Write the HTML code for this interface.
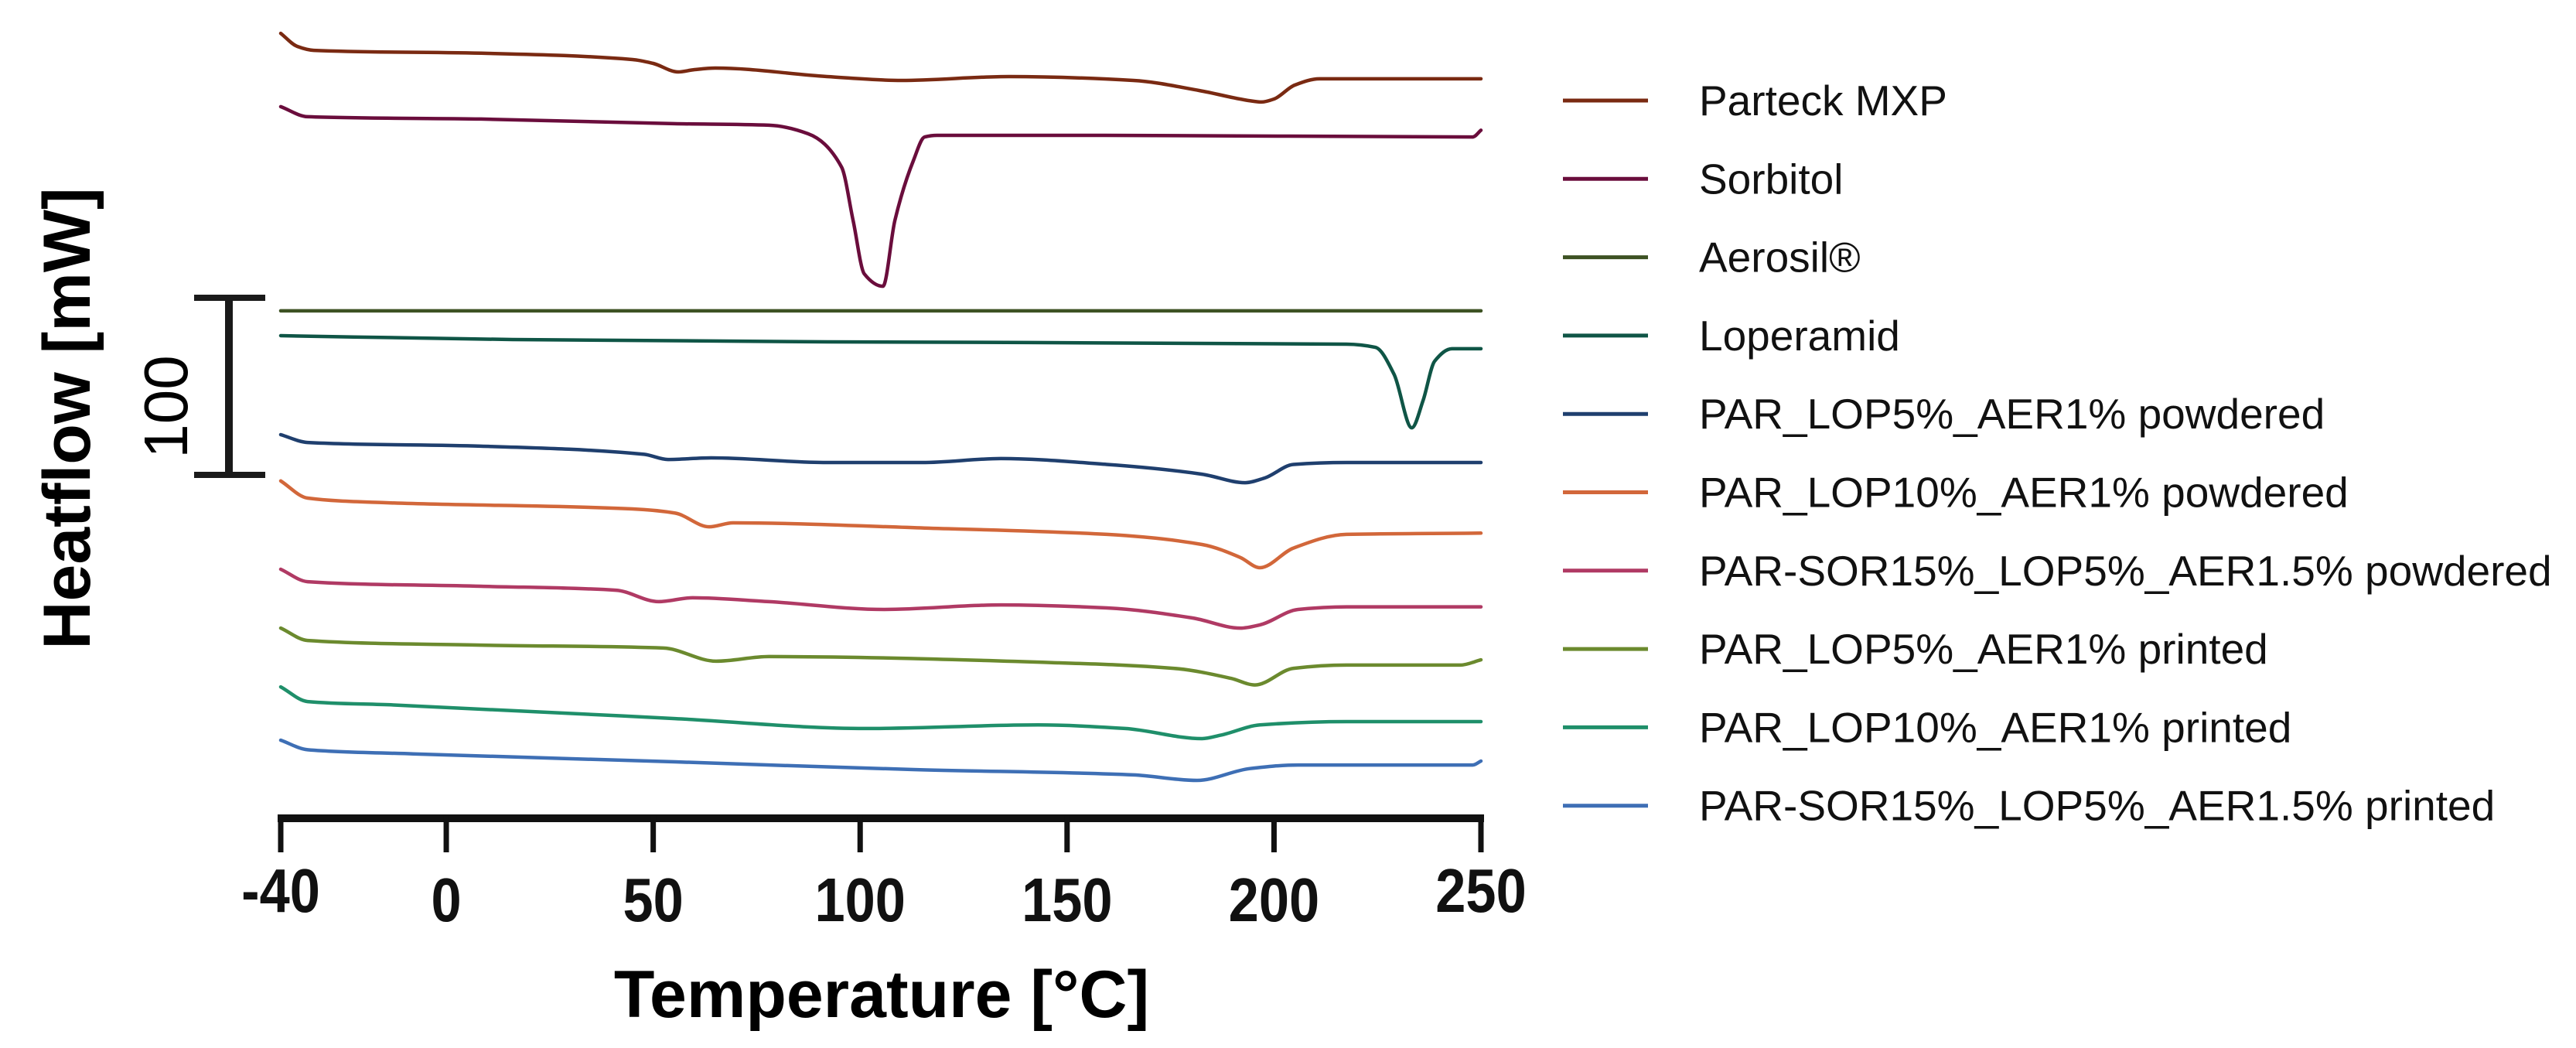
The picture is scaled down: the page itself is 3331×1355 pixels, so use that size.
<!DOCTYPE html>
<html><head><meta charset="utf-8"><style>
html,body{margin:0;padding:0;background:#fff;}
svg{display:block;font-family:"Liberation Sans",Arial,sans-serif;}
</style></head><body>
<svg id="chart" width="3331" height="1355" viewBox="0 0 3331 1355" xmlns="http://www.w3.org/2000/svg">
<g id="plot"></g>
<g id="axis"></g>
<g id="legend"></g>
<text x="1140" y="1315" font-size="86" font-weight="bold" text-anchor="middle">Temperature [°C]</text>
<text transform="translate(116,541) rotate(-90)" font-size="86" font-weight="bold" text-anchor="middle">Heatflow [mW]</text>
<g>
<line x1="296" y1="385" x2="296" y2="614" stroke="#1a1a1a" stroke-width="10"/>
<line x1="251" y1="385" x2="343" y2="385" stroke="#1a1a1a" stroke-width="8"/>
<line x1="251" y1="614" x2="343" y2="614" stroke="#1a1a1a" stroke-width="8"/>
<text transform="translate(242,526) rotate(-90)" font-size="80" text-anchor="middle">100</text>
</g>
</svg>
<script>
const seriesNames = ["Parteck MXP","Sorbitol","Aerosil®","Loperamid","PAR_LOP5%_AER1% powdered","PAR_LOP10%_AER1% powdered","PAR-SOR15%_LOP5%_AER1.5% powdered","PAR_LOP5%_AER1% printed","PAR_LOP10%_AER1% printed","PAR-SOR15%_LOP5%_AER1.5% printed"];
const seriesColors = ["#7a2a12","#6a0d3c","#3d5223","#0f5546","#1f3f6e","#d2673a","#b03a64","#6b8a2e","#1f8f6a","#3e6fb5"];
const xTicks = [-40,0,50,100,150,200,250];
const xTickLabels = ["-40","0","50","100","150","200","250"];
const tParteck = [-40,-36,-32,10,45,50,56,60,65,92,110,136,166,182,194,197,200,205,211,250];
const hParteck = [439.7,432.3,430.1,428.4,424.9,422.7,417.9,419.2,420.1,415.3,413.1,415.3,413.1,407.4,401.7,400.9,402.6,410.5,414.0,414.0];
const tSorbitol = [-40,-33.5,8.4,55,78,87.4,95.5,98.3,101,105.5,108.4,112.9,115.6,118.6,159,248,250];
const hSorbitol = [398.3,392.6,391.3,388.7,387.8,383,364.2,334.1,303.9,296.9,334.1,368.1,381.2,382.1,382.1,381.2,385];
const tAerosil = [-40,250];
const hAerosil = [283.0,283.0];
const tLoperamid = [-40,16,92,217.5,224.5,229,233.3,236,238.8,243,250];
const hLoperamid = [269,266.8,265.5,264.2,262.4,247.2,217,232.3,254.6,261.6,261.6];
const tLop5Pow = [-40,-33.5,8.4,47.8,53.6,64,92,115,134,159.6,182.6,193,197.7,204.7,217.5,250];
const hLop5Pow = [213.1,208.7,206.6,202,199.1,200,197.4,197.4,199.6,196.3,190.8,186,188.6,196.3,197.4,197.4];
const tLop10Pow = [-40,-33.5,-15,45,55.3,63.5,69.3,115.6,159.6,182.6,191.9,196.6,204.7,217.5,250];
const hLop10Pow = [187,177.3,174.7,171.2,168.8,161.1,163.3,160.4,156.8,151.1,143.7,138,149.1,156.8,157.5];
const tSorPow = [-40,-33.5,8.4,41,51.3,59.5,78,105.9,134,159.6,180.3,191.9,196.6,205.8,217.5,250];
const hSorPow = [137.1,130.1,127.5,125.3,118.8,121,118.8,114.4,117,115.3,109.6,103.9,105.7,114.4,115.9,115.9];
const tLop5Pri = [-40,-33.5,8.4,52.5,65.2,78,148,175.7,189.6,195.4,204.7,217.5,245,250];
const hLop5Pri = [103.9,96.9,94.3,92.6,85.2,87.8,84.3,81.2,75.5,71.8,81.2,83,83,86];
const tLop10Pri = [-40,-33.5,-12.7,55.3,101.3,143,164,182.6,187.2,196.6,217.5,250];
const hLop10Pri = [70.7,62.4,60.5,52.8,47.2,49.2,47.2,41.5,43.5,49.2,51.1,51.1];
const tSorPri = [-40,-33.5,-8,55.3,112.9,166,181.4,194.2,205.8,248,250];
const hSorPri = [40.6,35.2,32.9,28.4,24,21,17.9,24.6,26.6,26.6,28.8];

const seriesT = [tParteck,tSorbitol,tAerosil,tLoperamid,tLop5Pow,tLop10Pow,tSorPow,tLop5Pri,tLop10Pri,tSorPri];
const seriesH = [hParteck,hSorbitol,hAerosil,hLoperamid,hLop5Pow,hLop10Pow,hSorPow,hLop5Pri,hLop10Pri,hSorPri];
const seriesIds = ["parteck","sorbitol","aerosil","loperamid","lop5-powdered","lop10-powdered","sor15-powdered","lop5-printed","lop10-printed","sor15-printed"];

const NS="http://www.w3.org/2000/svg";
function xs(t){return 363+(t+40)*(1915-363)/290;}
function ys(v){return 1050-v*2.29;}
function mk(tag,attrs){const e=document.createElementNS(NS,tag);for(const k in attrs)e.setAttribute(k,attrs[k]);return e;}
// monotone cubic (Fritsch-Carlson) – no overshoot
function monoPath(pts){
  const n=pts.length;
  let d='M'+pts[0][0].toFixed(1)+' '+pts[0][1].toFixed(1);
  if(n<3){for(let i=1;i<n;i++)d+='L'+pts[i][0].toFixed(1)+' '+pts[i][1].toFixed(1);return d;}
  const dx=[],sl=[];
  for(let i=0;i<n-1;i++){dx.push(pts[i+1][0]-pts[i][0]);sl.push((pts[i+1][1]-pts[i][1])/dx[i]);}
  const m=[sl[0]];
  for(let i=1;i<n-1;i++){
    if(sl[i-1]*sl[i]<=0)m.push(0);
    else{const w1=2*dx[i]+dx[i-1],w2=dx[i]+2*dx[i-1];m.push((w1+w2)/(w1/sl[i-1]+w2/sl[i]));}
  }
  m.push(sl[n-2]);
  for(let i=0;i<n-1;i++){
    const h=dx[i]/3;
    d+='C'+(pts[i][0]+h).toFixed(1)+' '+(pts[i][1]+m[i]*h).toFixed(1)+' '+(pts[i+1][0]-h).toFixed(1)+' '+(pts[i+1][1]-m[i+1]*h).toFixed(1)+' '+pts[i+1][0].toFixed(1)+' '+pts[i+1][1].toFixed(1);
  }
  return d;
}

const plot=document.getElementById('plot');
for(let s=0;s<seriesT.length;s++){
  const pts=[];
  for(let i=0;i<seriesT[s].length;i++){pts.push([xs(seriesT[s][i]),ys(seriesH[s][i])]);}
  const p=mk('path',{d:monoPath(pts),fill:'none',stroke:seriesColors[s],'stroke-width':4.5,'stroke-linejoin':'round','stroke-linecap':'round'});
  
  
  plot.appendChild(p);
}

const axis=document.getElementById('axis');
const al=mk('line',{x1:xs(-40)-4,x2:xs(250)+4,y1:1058,y2:1058,stroke:'#111','stroke-width':10});


axis.appendChild(al);
for(let i=0;i<xTicks.length;i++){
  const x=xs(xTicks[i]);
  const tk=mk('line',{x1:x,x2:x,y1:1055,y2:1102,stroke:'#111','stroke-width':7});
  
  
  axis.appendChild(tk);
  const raised=(i===0||i===xTicks.length-1);
  const by=raised?1179:1191;
  const tx=mk('text',{x:0,y:0,'font-size':80,'font-weight':'bold','text-anchor':'middle',fill:'#111',transform:'translate('+x+','+by+') scale(0.88,1)'});
  tx.textContent=xTickLabels[i];
  
  
  axis.appendChild(tx);
}

const legend=document.getElementById('legend');
for(let s=0;s<seriesNames.length;s++){
  const y=130+s*101.3;
  const g=mk('g',{});
  
  
  const ln=mk('line',{x1:2021,x2:2131,y1:y,y2:y,stroke:seriesColors[s],'stroke-width':5});
  
  
  g.appendChild(ln);
  const tx=mk('text',{x:2197,y:y+19,'font-size':55,fill:'#111'});
  tx.textContent=seriesNames[s];
  
  
  g.appendChild(tx);
  legend.appendChild(g);
}
</script>
</body></html>
